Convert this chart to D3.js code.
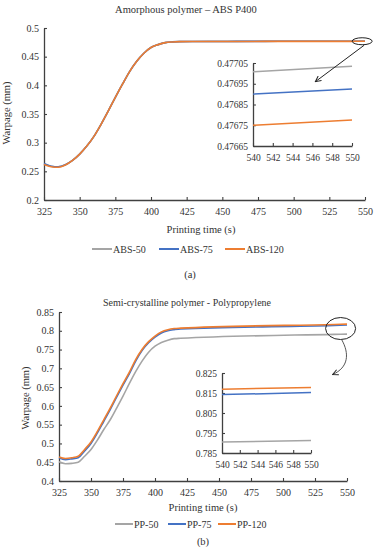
<!DOCTYPE html>
<html lang="en">
<head>
<meta charset="utf-8">
<title>Warpage vs printing time</title>
<script src="https://d3js.org/d3.v7.min.js"></script>
<style>
body { margin: 0; background: #fff; }
text { font-family: "Liberation Serif", "DejaVu Serif", serif; fill: #333; }
</style>
</head>
<body>
<script>
// ---- data ----
var timeA = [325,330,335,340,345,350,355,360,365,370,375,380,385,390,395,400,405,410,415,420,440,460,480,500,520,540,550];
var abs120 = [0.262,0.258,0.257,0.261,0.269,0.280,0.294,0.311,0.332,0.355,0.379,0.402,0.424,0.442,0.456,0.466,0.471,0.4745,0.4757,0.4762,0.4764,0.4765,0.4766,0.4766,0.4767,0.47675,0.477];
var abs75  = [0.2635,0.259,0.258,0.2615,0.269,0.280,0.294,0.311,0.332,0.355,0.379,0.402,0.424,0.442,0.456,0.466,0.471,0.4745,0.4758,0.4763,0.4765,0.4766,0.4767,0.4768,0.4768,0.4769,0.4769];
var abs50  = [0.263,0.259,0.258,0.2615,0.269,0.280,0.294,0.311,0.332,0.355,0.379,0.402,0.424,0.442,0.456,0.466,0.471,0.4745,0.4758,0.4764,0.4766,0.4767,0.4768,0.4769,0.477,0.47701,0.47703];

// inset (a) 540-550 s
var timeAi = [540,550];
var abs50i = [0.477008,0.477034];
var abs75i = [0.476900,0.476925];
var abs120i = [0.476750,0.476775];

var timeB = [325,330,335,340,345,350,355,360,365,370,375,380,385,390,395,400,405,410,415,420,540,550];
var pp120 = [0.464,0.460,0.462,0.466,0.484,0.504,0.532,0.563,0.594,0.627,0.659,0.690,0.724,0.751,0.771,0.786,0.797,0.803,0.806,0.807,0.8169,0.8177];
var pp75  = [0.462,0.457,0.459,0.462,0.480,0.500,0.528,0.559,0.590,0.623,0.655,0.686,0.720,0.748,0.768,0.783,0.794,0.800,0.803,0.805,0.8142,0.8152];
var pp50  = [0.451,0.446,0.447,0.450,0.466,0.484,0.509,0.537,0.563,0.594,0.626,0.660,0.692,0.720,0.743,0.759,0.769,0.775,0.779,0.780,0.7905,0.7912];

var timeBi = [540,550];
var pp50i = [0.7905,0.7912];
var pp75i = [0.8142,0.8152];
var pp120i = [0.8169,0.8177];

var xTicks = [325,350,375,400,425,450,475,500,525,550];
var yTicksA = [0.2,0.25,0.3,0.35,0.4,0.45,0.5];
var yTicksB = [0.4,0.45,0.5,0.55,0.6,0.65,0.7,0.75,0.8,0.85];
var insetXTicks = [540,542,544,546,548,550];
var insetYTicksA = [0.47665,0.47675,0.47685,0.47695,0.47705];
var insetYTicksB = [0.785,0.795,0.805,0.815,0.825];

var namesA = ["ABS-50","ABS-75","ABS-120"];
var namesB = ["PP-50","PP-75","PP-120"];
var colors = ["#A5A5A5","#4472C4","#ED7D31"];

var W = 379, H = 550;
var svg = d3.select("body").append("svg").attr("width", W).attr("height", H);

svg.append("defs").append("marker")
  .attr("id","arr").attr("viewBox","0 0 10 10").attr("refX",9).attr("refY",5)
  .attr("markerWidth",7).attr("markerHeight",7).attr("orient","auto-start-reverse")
  .append("path").attr("d","M1,1 L9,5 L1,9").attr("fill","none").attr("stroke","#222").attr("stroke-width",1.4);

var axisColor = "#404040";

function drawAxes(g, x, y, xt, yt, fmtY, fs) {
  var xa = g.append("g").attr("transform","translate(0," + y.range()[0] + ")")
    .call(d3.axisBottom(x).tickValues(xt).tickSizeInner(-3).tickSizeOuter(0).tickPadding(8).tickFormat(d3.format("d")));
  var ya = g.append("g").attr("transform","translate(" + x.range()[0] + ",0)")
    .call(d3.axisLeft(y).tickValues(yt).tickSizeInner(-3).tickSizeOuter(0).tickPadding(5).tickFormat(fmtY));
  [xa, ya].forEach(function(a) {
    a.select(".domain").attr("stroke", axisColor).attr("stroke-width", 1.3);
    a.selectAll(".tick line").attr("stroke", axisColor).attr("stroke-width", 1.1);
    a.selectAll(".tick text").style("font-family","'Liberation Serif', serif").style("font-size", fs + "px").attr("fill","#333");
  });
}

function drawLines(g, x, y, t, series, width) {
  var line = d3.line().x(function(d){ return x(d[0]); }).y(function(d){ return y(d[1]); }).curve(d3.curveMonotoneX);
  series.forEach(function(s, i) {
    g.append("path").datum(t.map(function(v, j){ return [v, s[j]]; }))
      .attr("d", line).attr("fill","none").attr("stroke", colors[i]).attr("stroke-width", width);
  });
}

function drawLegend(g, names, xs, ly, len) {
  names.forEach(function(n, i) {
    g.append("line").attr("x1", xs[i]).attr("x2", xs[i] + len).attr("y1", ly).attr("y2", ly)
      .attr("stroke", colors[i]).attr("stroke-width", 2);
    g.append("text").attr("x", xs[i] + len + 1).attr("y", ly + 3.5).style("font-size","10px").text(n);
  });
}

// ===== Panel (a) =====
var gA = svg.append("g");
var xA = d3.scaleLinear().domain([325,550]).range([44,365]);
var yA = d3.scaleLinear().domain([0.2,0.5]).range([200,28]);
gA.append("text").attr("x",186).attr("y",13).attr("text-anchor","middle").style("font-size","10.5px").text("Amorphous polymer – ABS P400");
drawAxes(gA, xA, yA, xTicks, yTicksA, function(d){ return String(+d.toFixed(2)); }, 10);
drawLines(gA, xA, yA, timeA, [abs50, abs75, abs120], 1.6);
gA.append("text").attr("transform","translate(10,113) rotate(-90)").attr("text-anchor","middle").style("font-size","10.5px").text("Warpage (mm)");
gA.append("text").attr("x",201).attr("y",233).attr("text-anchor","middle").style("font-size","10.5px").text("Printing time (s)");
drawLegend(gA, namesA, [92,159,225], 249, 20);
gA.append("text").attr("x",190).attr("y",278).attr("text-anchor","middle").style("font-size","10.5px").text("(a)");

// inset (a)
var xAi = d3.scaleLinear().domain([540,550]).range([253,352]);
var yAi = d3.scaleLinear().domain([0.47665,0.47705]).range([146,63]);
drawAxes(gA, xAi, yAi, insetXTicks, insetYTicksA, d3.format(".5f"), 9.5);
drawLines(gA, xAi, yAi, timeAi, [abs50i, abs75i, abs120i], 1.5);

// highlight ellipse and arrow (a)
var ecA = [xA(548), yA(0.4769)];
gA.append("ellipse").attr("cx", ecA[0]).attr("cy", ecA[1]).attr("rx",10).attr("ry",3.5)
  .attr("fill","none").attr("stroke","#222").attr("stroke-width",1);
gA.append("line").attr("x1", ecA[0] + 2).attr("y1", ecA[1] + 4).attr("x2", xAi(546.3)).attr("y2", yAi(0.47696))
  .attr("stroke","#222").attr("stroke-width",1).attr("marker-end","url(#arr)");

// ===== Panel (b) =====
var gB = svg.append("g");
var xB = d3.scaleLinear().domain([325,550]).range([59,347]);
var yB = d3.scaleLinear().domain([0.4,0.85]).range([481,312]);
gB.append("text").attr("x",187).attr("y",306).attr("text-anchor","middle").style("font-size","10px").text("Semi-crystalline polymer - Polypropylene");
drawAxes(gB, xB, yB, xTicks, yTicksB, function(d){ return String(+d.toFixed(2)); }, 10);
drawLines(gB, xB, yB, timeB, [pp50, pp75, pp120], 1.6);
gB.append("text").attr("transform","translate(29,398) rotate(-90)").attr("text-anchor","middle").style("font-size","10.5px").text("Warpage (mm)");
gB.append("text").attr("x",203).attr("y",511).attr("text-anchor","middle").style("font-size","10.5px").text("Printing time (s)");
drawLegend(gB, namesB, [115,168,218], 524, 18);
gB.append("text").attr("x",203).attr("y",545).attr("text-anchor","middle").style("font-size","10.5px").text("(b)");

// inset (b)
var xBi = d3.scaleLinear().domain([540,550]).range([222,311]);
var yBi = d3.scaleLinear().domain([0.785,0.825]).range([453,373]);
drawAxes(gB, xBi, yBi, insetXTicks, insetYTicksB, d3.format(".3f"), 9.5);
drawLines(gB, xBi, yBi, timeBi, [pp50i, pp75i, pp120i], 1.5);

// highlight ellipse and curved arrow (b)
var ecB = [xB(545), yB(0.806)];
gB.append("ellipse").attr("cx", ecB[0]).attr("cy", ecB[1]).attr("rx",15).attr("ry",11)
  .attr("fill","none").attr("stroke","#222").attr("stroke-width",1);
var p0 = [ecB[0] + 1, ecB[1] + 11], p1 = [ecB[0] - 8, ecB[1] + 46];
gB.append("path")
  .attr("d", "M" + p0[0] + "," + p0[1] + " C" + (p0[0] + 8) + "," + (p0[1] + 14) + " " + (p0[0] + 7) + "," + (p0[1] + 28) + " " + p1[0] + "," + p1[1])
  .attr("fill","none").attr("stroke","#555").attr("stroke-width",1).attr("marker-end","url(#arr)");
</script>
</body>
</html>
